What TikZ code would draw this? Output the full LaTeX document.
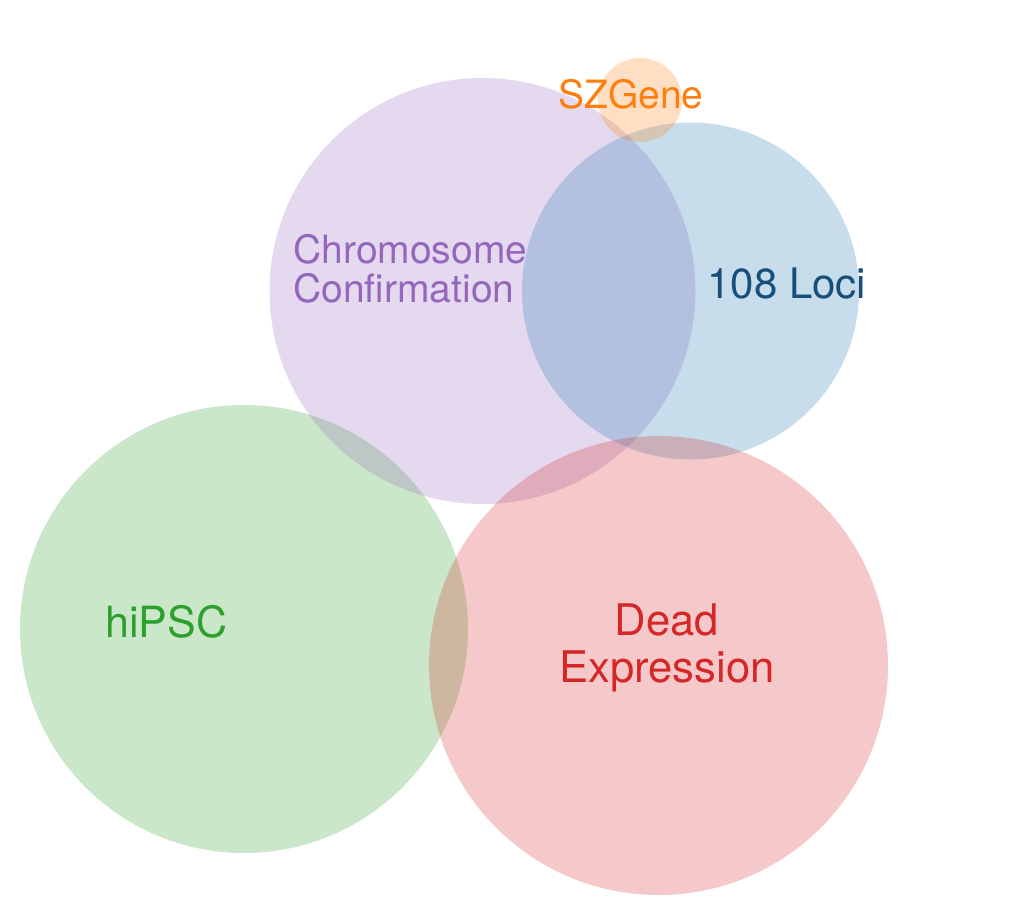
\documentclass[tikz,border=0pt]{standalone}
\usepackage{fontspec}
\setmainfont{TeX Gyre Heros}
\definecolor{cgreen}{RGB}{44,160,44}
\definecolor{cred}{RGB}{214,39,40}
\definecolor{cpurple}{RGB}{148,103,189}
\definecolor{cblue}{RGB}{31,119,180}
\definecolor{corange}{RGB}{255,127,14}
\definecolor{clocitext}{RGB}{23,78,122}

\begin{document}
\begin{tikzpicture}[x=0.5pt,y=-0.5pt]
  \tikzset{set/.style={circle, inner sep=0, fill opacity=0.25},
    lbl/.style={inner sep=0, anchor=base west}}
  \useasboundingbox (0,0) rectangle (1024,916);
  % sets (diameter in pt = radius in px)
  \node[set, fill=cgreen, minimum size=224pt] (hipsc) at (244,629) {};
  \node[set, fill=cpurple, minimum size=213pt] (chrom) at (482.5,291) {};
  \node[set, fill=cblue, minimum size=168.5pt] (loci) at (690.5,291) {};
  \node[set, fill=cred, minimum size=229.5pt] (dead) at (658.5,665.5) {};
  \node[set, fill=corange, minimum size=42pt] (szgene) at (640,100) {};
  % labels
  \node[lbl, text=corange, font=\fontsize{19.5pt}{19.5pt}\selectfont] (lszgene) at (558,108) {SZGene};
  \node[lbl, text=cpurple, align=left, font=\fontsize{19.5pt}{19.5pt}\selectfont] (lchrom) at (293,302) {Chromosome\\Confirmation};
  \node[lbl, text=clocitext, font=\fontsize{21pt}{21pt}\selectfont] (lloci) at (707,298) {108 Loci};
  \node[lbl, text=cgreen, font=\fontsize{21.5pt}{21.5pt}\selectfont] (lhipsc) at (105,637) {hiPSC};
  \node[inner sep=0, anchor=base, text=cred, align=center, font=\fontsize{21.8pt}{23.5pt}\selectfont] (ldead) at (667,682) {Dead\\Expression};
\end{tikzpicture}
\end{document}
